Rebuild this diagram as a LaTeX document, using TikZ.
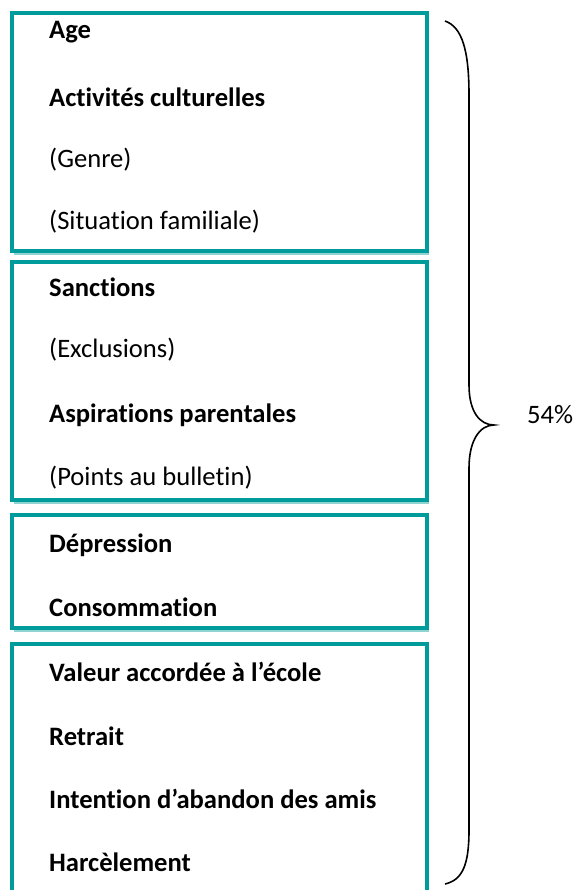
\documentclass[tikz,border=0pt]{standalone}
\usepackage{fontspec}
\setmainfont[Ligatures=NoCommon]{Carlito}
\usetikzlibrary{positioning}
\definecolor{boxteal}{HTML}{009B9B}
\definecolor{boxshade}{HTML}{8FD3D3}

\begin{document}
\begin{tikzpicture}[x=1pt,y=-1pt,
    factorbox/.style={draw=boxteal, line width=4},
    factor/.style={anchor=west, inner sep=0pt, font=\fontsize{26.6}{30}\selectfont\bfseries},
    factorlight/.style={factor, font=\fontsize{26.6}{30}\selectfont}]
    \useasboundingbox (0,0) rectangle (575,890);
    \clip (0,0) rectangle (575,890);

    % Draw the four boxes
    \draw[boxshade, line width=1.5] (14,254) -- (429,254);
    \draw[boxshade, line width=1.5] (14,503) -- (429,503);
    \draw[boxshade, line width=1.5] (14,631) -- (429,631);
    \draw[factorbox] (11.5,13) rectangle (427,251);
    \draw[factorbox] (11.5,262) rectangle (427,500);
    \draw[factorbox] (11.5,515) rectangle (427,628);
    \draw[factorbox] (11.5,644) rectangle (427,910);

    % Box 1
    \node[factor] (age) at (49,32) {Age};
    \node[factor] (culture) at (49,97) {Activités culturelles};
    \node[factorlight] (genre) at (49,160) {(Genre)};
    \node[factorlight] (famille) at (49,222) {(Situation familiale)};

    % Box 2
    \node[factor] (sanctions) at (49,287) {Sanctions};
    \node[factorlight] (exclusions) at (49,350) {(Exclusions)};
    \node[factor] (aspirations) at (49,415) {Aspirations parentales};
    \node[factorlight] (points) at (49,478) {(Points au bulletin)};

    % Box 3
    \node[factor] (depression) at (49,545) {Dépression};
    \node[factor] (conso) at (49,607) {Consommation};

    % Box 4
    \node[factor] (valeur) at (49,672) {Valeur accordée à l’école};
    \node[factor] (retrait) at (49,736) {Retrait};
    \node[factor] (intention) at (49,799) {Intention d’abandon des amis};
    \node[factor] (harcelement) at (49,862) {Harcèlement};

    % Brace and label
    \draw[line width=1.6] (445,21) .. controls (462,27) and (469,50) .. (469,95)
        -- (469,385) .. controls (469,412) and (480,425) .. (494,425)
        .. controls (480,425) and (469,440) .. (469,468)
        -- (469,830) .. controls (469,866) and (462,880) .. (445,884);
    \node[anchor=west, inner sep=0pt, font=\fontsize{26.6}{30}\selectfont] (total) at (527,415) {54\%};
\end{tikzpicture}
\end{document}
